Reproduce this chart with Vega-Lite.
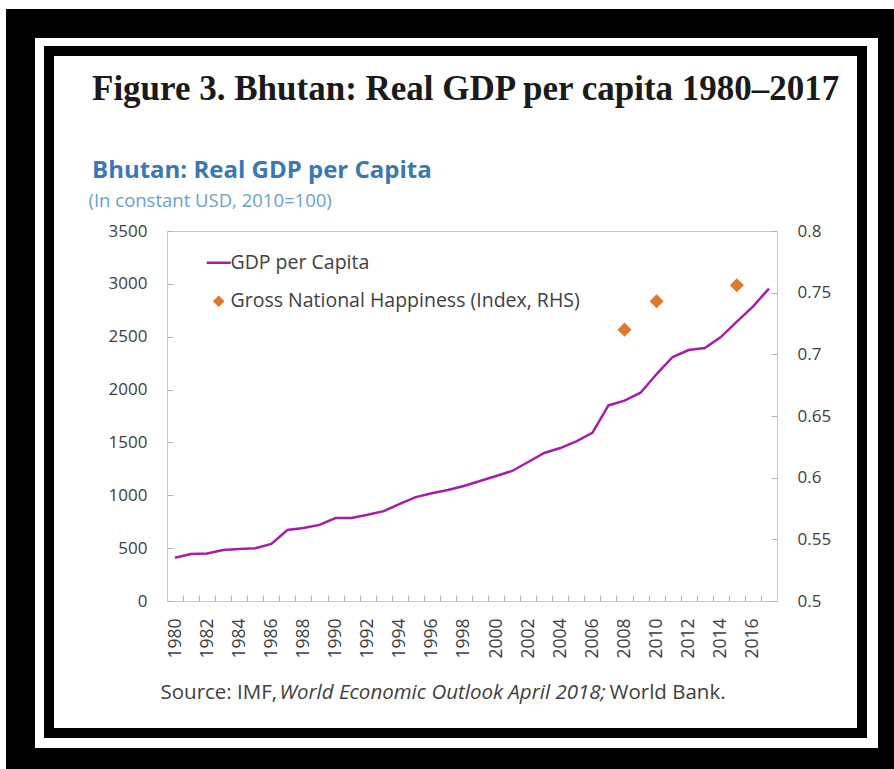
{
  "$schema": "https://vega.github.io/schema/vega-lite/v6.json",
  "autosize": "none",
  "width": 813,
  "height": 682,
  "padding": {"left": 49, "top": 51, "right": 32, "bottom": 36},
  "background": "white",
  "title": {
    "text": "Figure 3. Bhutan: Real GDP per capita 1980–2017",
    "subtitle": "Bhutan: Real GDP per Capita",
    "anchor": "start",
    "frame": "group",
    "orient": "top",
    "offset": -174,
    "dx": 43,
    "font": "Liberation Serif",
    "fontSize": 35,
    "fontWeight": "bold",
    "color": "#1a1a1a",
    "subtitleFont": "Open Sans",
    "subtitleFontSize": 24,
    "subtitleFontWeight": "bold",
    "subtitleColor": "#3a77b4",
    "subtitlePadding": 52
  },
  "datasets": {
    "gdp": [
      {"year": 1980, "gdp": 410}, {"year": 1981, "gdp": 445}, {"year": 1982, "gdp": 450},
      {"year": 1983, "gdp": 482}, {"year": 1984, "gdp": 492}, {"year": 1985, "gdp": 500},
      {"year": 1986, "gdp": 540}, {"year": 1987, "gdp": 672}, {"year": 1988, "gdp": 690},
      {"year": 1989, "gdp": 720}, {"year": 1990, "gdp": 785}, {"year": 1991, "gdp": 785},
      {"year": 1992, "gdp": 815}, {"year": 1993, "gdp": 850}, {"year": 1994, "gdp": 918},
      {"year": 1995, "gdp": 983}, {"year": 1996, "gdp": 1020}, {"year": 1997, "gdp": 1050},
      {"year": 1998, "gdp": 1088}, {"year": 1999, "gdp": 1135}, {"year": 2000, "gdp": 1182},
      {"year": 2001, "gdp": 1230}, {"year": 2002, "gdp": 1315}, {"year": 2003, "gdp": 1400},
      {"year": 2004, "gdp": 1447}, {"year": 2005, "gdp": 1510}, {"year": 2006, "gdp": 1590},
      {"year": 2007, "gdp": 1850}, {"year": 2008, "gdp": 1895}, {"year": 2009, "gdp": 1970},
      {"year": 2010, "gdp": 2147}, {"year": 2011, "gdp": 2308}, {"year": 2012, "gdp": 2374},
      {"year": 2013, "gdp": 2393}, {"year": 2014, "gdp": 2497}, {"year": 2015, "gdp": 2642},
      {"year": 2016, "gdp": 2784}, {"year": 2017, "gdp": 2955}
    ],
    "gnh": [
      {"year": 2008, "gnh": 0.72},
      {"year": 2010, "gnh": 0.743},
      {"year": 2015, "gnh": 0.756}
    ]
  },
  "layer": [
    {
      "data": {"name": "gdp"},
      "mark": {"type": "line", "strokeWidth": 2.5},
      "encoding": {
        "x": {
          "field": "year",
          "type": "ordinal",
          "bandPosition": 0.5,
          "scale": {
            "type": "band",
            "domain": [1980,1981,1982,1983,1984,1985,1986,1987,1988,1989,1990,1991,1992,1993,1994,1995,1996,1997,1998,1999,2000,2001,2002,2003,2004,2005,2006,2007,2008,2009,2010,2011,2012,2013,2014,2015,2016,2017],
            "range": [118, 728],
            "paddingInner": 0,
            "paddingOuter": 0
          },
          "axis": {
            "orient": "bottom",
            "offset": -132,
            "tickBand": "extent",
            "tickSize": -6,
            "tickColor": "#b4b4b4",
            "domainColor": "#c8c8c8",
            "labelAngle": 270,
            "labelPadding": 23,
            "labelFontSize": 17.5,
            "labelExpr": "datum.value % 2 === 0 ? datum.label : ''",
            "title": "Source: IMF,",
            "titleX": 111,
            "titleY": 97,
            "titleAngle": 0,
            "titleAlign": "left",
            "titleBaseline": "alphabetic",
            "titleFontSize": 20.5,
            "titleColor": "#404040"
          }
        },
        "y": {
          "field": "gdp",
          "type": "quantitative",
          "scale": {"domain": [0, 3500], "range": [550, 180], "nice": false, "zero": false},
          "axis": {
            "orient": "left",
            "offset": -118,
            "values": [0, 500, 1000, 1500, 2000, 2500, 3000, 3500],
            "format": "d",
            "grid": false,
            "tickSize": -6,
            "tickColor": "#b4b4b4",
            "domainColor": "#c8c8c8",
            "labelPadding": 26,
            "title": "(In constant USD, 2010=100)",
            "titleX": -79,
            "titleY": 155,
            "titleAngle": 0,
            "titleAlign": "left",
            "titleBaseline": "alphabetic",
            "titleFontSize": 18.5,
            "titleColor": "#6a9fd4"
          }
        },
        "color": {
          "datum": "GDP per Capita",
          "type": "nominal",
          "scale": {
            "domain": ["GDP per Capita", "Gross National Happiness (Index, RHS)"],
            "range": ["#a61ea6", "#e0792b"]
          },
          "legend": {
            "orient": "none",
            "legendX": 160,
            "legendY": 202,
            "title": null,
            "padding": 0,
            "labelFont": "Open Sans",
            "labelFontSize": 19.5,
            "labelColor": "#404040",
            "labelLimit": 600,
            "labelOffset": 2,
            "symbolSize": 576,
            "rowPadding": 17.5,
            "encode": {
              "symbols": {
                "update": {
                  "shape": {"signal": "datum.value === 'GDP per Capita' ? 'stroke' : 'diamond'"},
                  "size": {"signal": "datum.value === 'GDP per Capita' ? 576 : 64"},
                  "stroke": {"signal": "datum.value === 'GDP per Capita' ? '#a61ea6' : 'transparent'"},
                  "fill": {"signal": "datum.value === 'GDP per Capita' ? 'transparent' : '#e0792b'"},
                  "strokeWidth": {"value": 2.5},
                  "opacity": {"value": 1}
                }
              }
            }
          }
        }
      }
    },
    {
      "data": {"name": "gnh"},
      "mark": {"type": "point", "shape": "diamond", "filled": true, "size": 200, "opacity": 1, "strokeWidth": 0},
      "encoding": {
        "x": {
          "field": "year",
          "type": "ordinal",
          "bandPosition": 0.5,
          "axis": {
            "orient": "top",
            "offset": -180,
            "labels": false,
            "ticks": false,
            "domainColor": "#c8c8c8",
            "title": "World Bank.",
            "titleX": 560,
            "titleY": 467,
            "titleAngle": 0,
            "titleAlign": "left",
            "titleBaseline": "alphabetic",
            "titleFontSize": 20.5,
            "titleColor": "#404040"
          }
        },
        "y": {
          "field": "gnh",
          "type": "quantitative",
          "scale": {"domain": [0.5, 0.8], "range": [550, 180], "nice": false, "zero": false},
          "axis": {
            "orient": "right",
            "offset": -85,
            "values": [0.5, 0.55, 0.6, 0.65, 0.7, 0.75, 0.8],
            "format": ".2~f",
            "grid": false,
            "tickSize": -6,
            "tickColor": "#b4b4b4",
            "domainColor": "#c8c8c8",
            "labelPadding": 26,
            "title": "World Economic Outlook April 2018;",
            "titleX": -498,
            "titleY": 647,
            "titleAngle": 0,
            "titleAlign": "left",
            "titleBaseline": "alphabetic",
            "titleFontSize": 20.5,
            "titleFontStyle": "italic",
            "titleColor": "#404040"
          }
        },
        "color": {"datum": "Gross National Happiness (Index, RHS)", "type": "nominal"},
        "stroke": {
          "field": "gnh",
          "type": "quantitative",
          "scale": {"range": ["#e0792b", "#e0792b"]},
          "legend": {
            "type": "gradient",
            "orient": "none",
            "direction": "horizontal",
            "legendX": -28.5,
            "legendY": -27.5,
            "title": null,
            "padding": 0,
            "gradientLength": 872,
            "gradientThickness": 739,
            "gradientOpacity": 0,
            "gradientStrokeWidth": 0,
            "labelExpr": "''",
            "labelFontSize": 0,
            "labelOffset": 0,
            "encode": {
              "legend": {
                "update": {
                  "stroke": {"value": "black"},
                  "strokeWidth": {"value": 29},
                  "fill": {"value": "transparent"}
                }
              }
            }
          }
        }
      }
    }
  ],
  "resolve": {
    "scale": {"y": "independent"},
    "axis": {"x": "independent", "y": "independent"}
  },
  "config": {
    "view": {"fill": "white", "stroke": "black", "strokeWidth": 10},
    "axis": {
      "labelFont": "Open Sans",
      "labelFontSize": 17,
      "labelColor": "#404040",
      "titleFont": "Open Sans",
      "titleFontWeight": "normal",
      "grid": false
    }
  }
}
